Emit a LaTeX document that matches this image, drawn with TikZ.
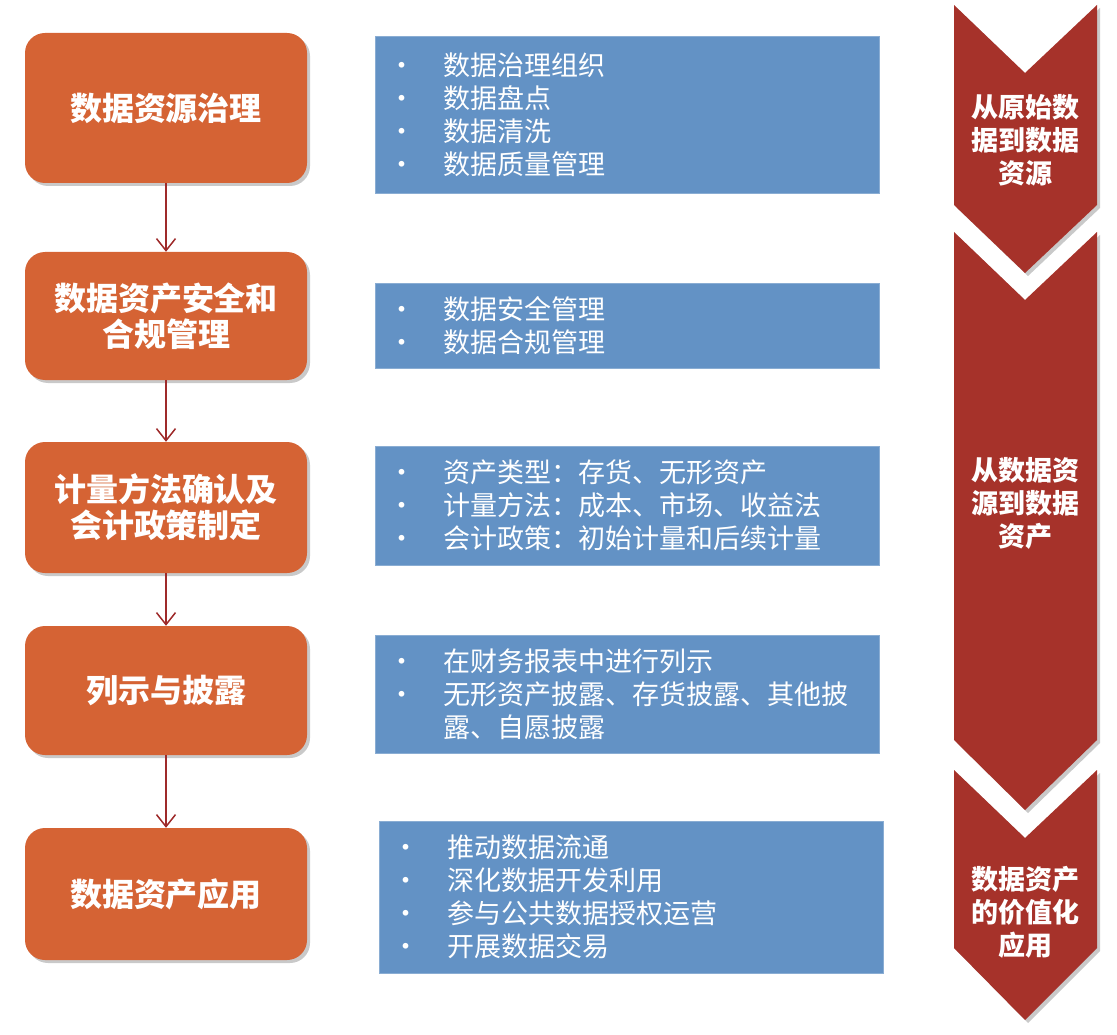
\documentclass[tikz,border=0pt]{standalone}
\usepackage{fontspec}
\newfontfamily\cjk{Noto Sans CJK SC}
\usetikzlibrary{arrows.meta,shadows}
\definecolor{boxorange}{RGB}{213,99,52}
\definecolor{boxblue}{RGB}{99,146,197}
\definecolor{chevred}{RGB}{166,50,42}
\definecolor{arrowred}{RGB}{158,42,42}
\newcommand{\bul}{\makebox[55pt][l]{•}}

\begin{document}
\begin{tikzpicture}[x=1pt,y=-1pt,
    softshadow/.style={drop shadow={shadow xshift=3pt,shadow yshift=-3pt,opacity=0.3,fill=black!70}},
    stepbox/.style={fill=boxorange, rounded corners=20pt, minimum width=282pt, text=white,
        align=center, font=\cjk\bfseries\fontsize{32pt}{36pt}\selectfont, softshadow},
    listbox/.style={fill=boxblue, draw=boxblue!75!white, line width=0.8pt, text width=478pt,
        inner xsep=13pt, inner ysep=0pt, align=left, text=white,
        font=\cjk\fontsize{27pt}{33pt}\selectfont},
    chevron/.style={fill=chevred, softshadow},
    chevtext/.style={text=white, align=center, font=\cjk\bfseries\fontsize{27pt}{33pt}\selectfont},
    flowarrow/.style={draw=arrowred, line width=1.5pt, -{Straight Barb[length=12pt,width=19pt]}}]
    \useasboundingbox (0,0) rectangle (1117,1035);

    % Steps on the left
    \node[stepbox, minimum height=150pt] (gov) at (166,108) {数据资源治理};
    \node[stepbox, minimum height=128pt] (secur) at (166,316) {数据资产安全和\\合规管理};
    \node[stepbox, minimum height=131pt] (measure) at (166,507.5) {计量方法确认及\\会计政策制定};
    \node[stepbox, minimum height=129pt] (disclose) at (166,690.5) {列示与披露};
    \node[stepbox, minimum height=132pt] (apply) at (166,894) {数据资产应用};

    % Arrows between steps
    \draw[flowarrow] (gov) -- (secur);
    \draw[flowarrow] (secur) -- (measure);
    \draw[flowarrow] (measure) -- (disclose);
    \draw[flowarrow] (disclose) -- (apply);

    % Details
    \node[listbox, minimum height=157pt] (govlist) at (627,114.5)
        {\bul 数据治理组织\\\bul 数据盘点\\\bul 数据清洗\\\bul 数据质量管理};
    \node[listbox, minimum height=85pt] (securlist) at (627,325.5)
        {\bul 数据安全管理\\\bul 数据合规管理};
    \node[listbox, minimum height=119pt] (measurelist) at (627,505.5)
        {\bul 资产类型：存货、无形资产\\\bul 计量方法：成本、市场、收益法\\\bul 会计政策：初始计量和后续计量};
    \node[listbox, minimum height=118pt] (discloselist) at (627,694)
        {\bul 在财务报表中进行列示\\\bul 无形资产披露、存货披露、其他披\\\makebox[55pt]{}露、自愿披露};
    \node[listbox, minimum height=152pt] (applylist) at (631,897)
        {\bul 推动数据流通\\\bul 深化数据开发利用\\\bul 参与公共数据授权运营\\\bul 开展数据交易};

    % Stages on the right
    \fill[chevron] (954,5) -- (1025,73) -- (1097,5) -- (1097,205) -- (1025,273) -- (954,205) -- cycle;
    \fill[chevron] (954,232) -- (1025,300) -- (1097,232) -- (1097,740) -- (1025,810) -- (954,740) -- cycle;
    \fill[chevron] (954,770) -- (1025,838) -- (1097,770) -- (1097,948) -- (1025,1020) -- (954,948) -- cycle;
    \node[chevtext] (rawstage) at (1025,140) {从原始数\\据到数据\\资源};
    \node[chevtext] (assetstage) at (1025,503.5) {从数据资\\源到数据\\资产};
    \node[chevtext] (valuestage) at (1025,912) {数据资产\\的价值化\\应用};
\end{tikzpicture}
\end{document}
